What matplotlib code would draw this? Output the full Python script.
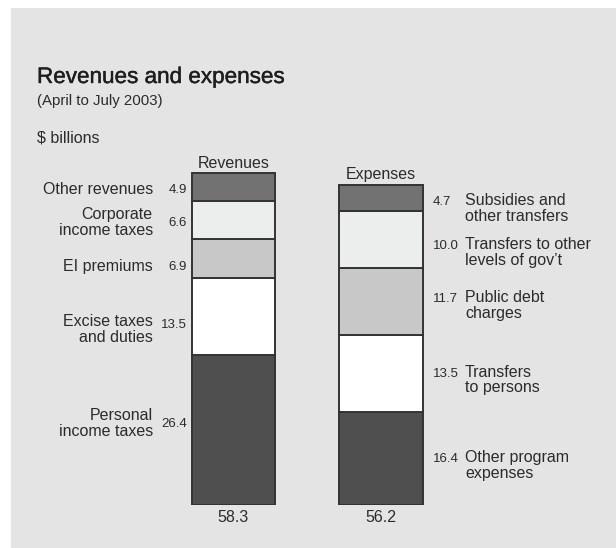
import matplotlib.pyplot as plt
import matplotlib.patches as mpatches
import matplotlib.patheffects as pe
import numpy as np

plt.rcParams['font.family'] = ['Liberation Sans', 'DejaVu Sans']

# data (bottom to top)
rev_labels = ['Personal\nincome taxes', 'Excise taxes\nand duties', 'EI premiums',
              'Corporate\nincome taxes', 'Other revenues']
rev_values = [26.4, 13.5, 6.9, 6.6, 4.9]
exp_labels = ['Other program\nexpenses', 'Transfers\nto persons', 'Public debt\ncharges',
              'Transfers to other\nlevels of gov\u2019t', 'Subsidies and\nother transfers']
exp_values = [16.4, 13.5, 11.7, 10.0, 4.7]
bar_names = ['Revenues', 'Expenses']
totals = [58.3, 56.2]

seg_colors = ['#4f4f50', '#ffffff', '#c8c8c8', '#eceded', '#727272']
text_col = '#2b2b2b'
edge_col = '#333333'

# small vertical nudges of the labels (points, + is up)
rev_lab_dy = [4.5, -9.5, -6, -2, -2]
rev_val_dy = [4.5, -6, -6, -2, -2]
exp_dy = [1, 1, 3, -3, -1.5]

W, H = 616, 548
fig = plt.figure(figsize=(W / 100, H / 100), dpi=100)
fig.patch.set_facecolor('white')

# gray panel
fig.patches.append(mpatches.Rectangle((11 / W, 0), 605 / W, 540 / H,
                                      transform=fig.transFigure,
                                      facecolor='#e4e4e4', edgecolor='none', zorder=-10))

fig.text(37 / W, 1 - 83 / H, 'Revenues and expenses', fontsize=16.2,
         color='#1e1e1e', va='baseline', ha='left',
         path_effects=[pe.withStroke(linewidth=0.3, foreground='#1e1e1e')])
fig.text(37 / W, 1 - 105 / H, '(April to July 2003)', fontsize=10.8,
         color=text_col, va='baseline', ha='left')
fig.text(37 / W, 1 - 143 / H, '$ billions', fontsize=11.5,
         color=text_col, va='baseline', ha='left')

ax = fig.add_axes([159.8 / W, 43 / H, 294.8 / W, 341.4 / H])
ax.set_zorder(5)
ax.set_xlim(-0.5, 1.5)
ax.set_ylim(0, 60)
ax.axis('off')

bw = 0.567
for xi, vals in enumerate([rev_values, exp_values]):
    bottoms = np.concatenate([[0], np.cumsum(vals)[:-1]])
    ax.bar([xi] * len(vals), vals, bottom=bottoms, width=bw, color=seg_colors,
           edgecolor=edge_col, linewidth=1.4, zorder=3)
    top = sum(vals)
    ax.annotate(bar_names[xi], (xi, top), xytext=(0, 1.8), textcoords='offset points',
                ha='center', va='bottom', fontsize=11.5, color=text_col)
    ax.annotate(f'{totals[xi]:.1f}', (xi, 0), xytext=(0, -3.5), textcoords='offset points',
                ha='center', va='top', fontsize=11.5, color=text_col)

# revenue labels on the left
rb = np.concatenate([[0], np.cumsum(rev_values)[:-1]])
for lab, v, b, dl, dv in zip(rev_labels, rev_values, rb, rev_lab_dy, rev_val_dy):
    yc = b + v / 2
    ax.annotate(f'{v:.1f}', (-bw / 2, yc), xytext=(-3.6, dv), textcoords='offset points',
                ha='right', va='center', fontsize=9.5, color=text_col)
    ax.annotate(lab, (-bw / 2, yc), xytext=(-28, dl), textcoords='offset points',
                ha='right', va='center', fontsize=11.5, color=text_col,
                linespacing=1.05, multialignment='right')

# expense labels on the right, first line on the value's baseline
eb = np.concatenate([[0], np.cumsum(exp_values)[:-1]])
for lab, v, b, d in zip(exp_labels, exp_values, eb, exp_dy):
    yc = b + v / 2
    ax.annotate(f'{v:.1f}', (1 + bw / 2, yc), xytext=(7.2, d - 3.6),
                textcoords='offset points',
                ha='left', va='baseline', fontsize=9.5, color=text_col)
    for k, line in enumerate(lab.split('\n')):
        ax.annotate(line, (1 + bw / 2, yc), xytext=(30.5, d - 3.6 - 11.2 * k),
                    textcoords='offset points',
                    ha='left', va='baseline', fontsize=11.5, color=text_col)

fig.savefig('out.png', dpi=100)
